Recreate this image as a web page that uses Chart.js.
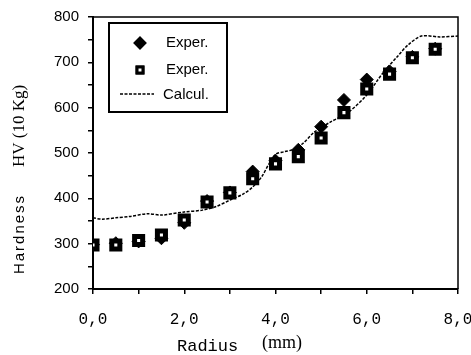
<!DOCTYPE html>
<html>
<head>
<meta charset="utf-8">
<script src="https://cdn.jsdelivr.net/npm/chart.js@4.4.1/dist/chart.umd.min.js"></script>
<style>
  html, body { margin: 0; padding: 0; background: #fff; }
  #wrap { width: 471px; height: 355px; position: relative; }
</style>
</head>
<body>
<div id="wrap"><canvas id="chart"></canvas></div>
<script>
// Radius (mm) of the measured points
const radius = [0, 0.5, 1.0, 1.5, 2.0, 2.5, 3.0, 3.5, 4.0, 4.5, 5.0, 5.5, 6.0, 6.5, 7.0, 7.5];
// Exper. (filled diamonds, mostly hidden behind the squares)
const experFilled = [298, 301, 305, 312, 346, 394, 413, 459, 483, 507, 558, 617, 662, 680, 712, 730];
// Exper. (open squares)
const experSquare = [297, 297, 307, 319, 352, 392, 412, 443, 476, 492, 533, 589, 641, 674, 710, 729];

// Calcul. curve
const calcRadius = [0, 0.2, 0.5, 0.8, 1.2, 1.5, 2.0, 2.4, 2.7, 3.0, 3.3, 3.5, 3.7, 3.85, 4.0, 4.2, 4.4, 4.6, 4.85, 5.2, 5.6, 6.0, 6.35, 6.7, 6.9, 7.2, 7.6, 8.0];
const calcHardness = [357, 354, 357, 360, 366, 363, 370, 374, 382, 396, 410, 425, 448, 475, 497, 503, 508, 521, 546, 568, 590, 628, 676, 716, 738, 758, 756, 758];

const xTicks = [0, 2, 4, 6, 8];
const yTicks = [200, 300, 400, 500, 600, 700, 800];

const toPoints = (xs, ys) => xs.map((x, i) => ({ x: x, y: ys[i] }));

const diamondStyle = { pointStyle: 'rectRot', radius: 6.5, backgroundColor: '#000', borderColor: '#000', borderWidth: 1 };
const squareStyle = { pointStyle: 'rect', radius: 5.7, backgroundColor: '#fff', borderColor: '#000', borderWidth: 5 };

// frame, legend box and the mixed-font axis titles
const decorPlugin = {
  id: 'decor',
  afterDraw(chart) {
    const ctx = chart.ctx;
    const a = chart.chartArea;
    ctx.save();
    ctx.strokeStyle = '#000';
    ctx.lineWidth = 1.5;
    ctx.beginPath();
    ctx.moveTo(a.left, a.top);
    ctx.lineTo(a.right, a.top);
    ctx.lineTo(a.right, a.bottom);
    ctx.stroke();

    // legend
    ctx.fillStyle = '#fff';
    ctx.fillRect(109, 23, 118, 89);
    ctx.lineWidth = 2;
    ctx.strokeRect(109, 23, 118, 89);
    const h = Chart.helpers;
    h.drawPoint(ctx, { pointStyle: 'rectRot', radius: 5.5, borderWidth: 1 }, 140, 43);
    ctx.fillStyle = '#000';
    ctx.fill();
    ctx.strokeStyle = '#000';
    ctx.lineWidth = 1;
    ctx.stroke();
    ctx.fillStyle = '#fff';
    ctx.lineWidth = 3;
    h.drawPoint(ctx, { pointStyle: 'rect', radius: 4.2, borderWidth: 3 }, 140, 70);
    ctx.fill();
    ctx.stroke();
    ctx.lineWidth = 1.5;
    ctx.setLineDash([3, 1.5]);
    ctx.beginPath();
    ctx.moveTo(120, 94);
    ctx.lineTo(154, 94);
    ctx.stroke();
    ctx.setLineDash([]);
    ctx.fillStyle = '#000';
    ctx.font = '15px "Liberation Sans", Arial, sans-serif';
    ctx.textBaseline = 'middle';
    ctx.textAlign = 'left';
    ctx.fillText('Exper.', 166, 43);
    ctx.fillText('Exper.', 166, 70);
    ctx.fillText('Calcul.', 163, 95);

    // x axis title
    ctx.font = '17px "Liberation Mono", "DejaVu Sans Mono", monospace';
    ctx.fillText('Radius', 177, 346);
    ctx.font = '18px "Liberation Serif", serif';
    ctx.fillText('(mm)', 262, 343);

    // y axis title (rotated)
    ctx.translate(20, 0);
    ctx.rotate(-Math.PI / 2);
    ctx.textAlign = 'center';
    ctx.font = '15px "Liberation Sans", Arial, sans-serif';
    ctx.letterSpacing = '2px';
    ctx.fillText('Hardness', -234, 0);
    ctx.letterSpacing = '0px';
    ctx.font = '17px "Liberation Serif", serif';
    ctx.fillText('HV (10 Kg)', -126, 0);
    ctx.restore();
  }
};

new Chart(document.getElementById('chart'), {
  type: 'scatter',
  data: {
    datasets: [
      Object.assign({
        label: 'Exper.',
        data: toPoints(radius, experSquare),
        order: 0
      }, squareStyle),
      Object.assign({
        label: 'Exper.',
        data: toPoints(radius, experFilled),
        order: 1
      }, diamondStyle),
      {
        label: 'Calcul.',
        type: 'line',
        data: toPoints(calcRadius, calcHardness),
        borderColor: '#000',
        borderWidth: 1.5,
        borderDash: [3, 1.5],
        pointRadius: 0,
        fill: false,
        tension: 0.3,
        order: 2
      }
    ]
  },
  options: {
    responsive: true,
    maintainAspectRatio: false,
    animation: false,
    layout: { padding: { top: 17, right: 13, left: 0, bottom: 0 } },
    plugins: {
      legend: { display: false },
      tooltip: { enabled: false }
    },
    scales: {
      x: {
        type: 'linear',
        min: 0,
        max: 8,
        border: { display: true, color: '#000', width: 2 },
        grid: { drawOnChartArea: false, color: '#000', tickLength: 5, lineWidth: 1.5 },
        ticks: {
          stepSize: 1,
          color: '#000',
          padding: 16,
          maxRotation: 0,
          font: { family: '"Liberation Mono", "DejaVu Sans Mono", monospace', size: 16 },
          callback: function(value) {
            return xTicks.includes(value) ? value.toFixed(1).replace('.', ',') : '';
          }
        },
        afterFit: function(scale) {
          scale.height = 66;
          scale.paddingLeft = 0;
          scale.paddingRight = 0;
        }
      },
      y: {
        type: 'linear',
        min: 200,
        max: 800,
        border: { display: true, color: '#000', width: 2 },
        grid: { drawOnChartArea: false, color: '#000', tickLength: 5, lineWidth: 1.5 },
        ticks: {
          stepSize: 50,
          color: '#000',
          padding: 9,
          font: { family: '"Liberation Sans", Arial, sans-serif', size: 15 },
          callback: function(value) {
            return yTicks.includes(value) ? String(value) : '';
          }
        },
        afterFit: function(scale) {
          scale.width = 93;
          scale.paddingTop = 0;
          scale.paddingBottom = 0;
        }
      }
    }
  },
  plugins: [decorPlugin]
});
</script>
</body>
</html>
